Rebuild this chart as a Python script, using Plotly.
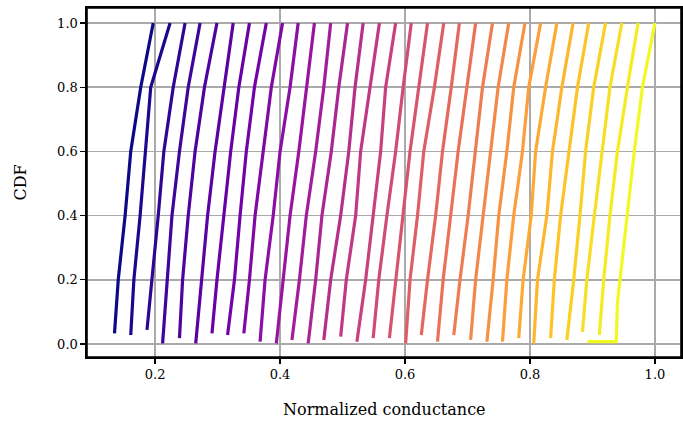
import plotly.graph_objects as go
from plotly.colors import sample_colorscale

# CDF levels read at the horizontal gridlines (shared by every curve after its first point)
cdf_levels = [0.2, 0.4, 0.6, 0.8, 1.0]

# CDF value of the first (lowest) point of each curve
first_cdf = [0.033, 0.028, 0.044, 0.002, 0.018, 0.002, 0.033, 0.028, 0.033, 0.007,
             0.002, 0.0125, 0.002, 0.0125, 0.023, 0.007, 0.018, 0.018, 0.002, 0.028,
             0.007, 0.028, 0.0125, 0.007, 0.007, 0.018, 0.002, 0.018, 0.0125, 0.038,
             0.028]

# normalized conductance of each curve: [first point, at 0.2, 0.4, 0.6, 0.8, 1.0]
curves_x = [
    [0.135, 0.141, 0.152, 0.161, 0.177, 0.197],
    [0.161, 0.166, 0.176, 0.184, 0.193, 0.224],
    [0.187, 0.195, 0.205, 0.214, 0.229, 0.248],
    [0.212, 0.219, 0.227, 0.239, 0.253, 0.272],
    [0.239, 0.244, 0.253, 0.264, 0.279, 0.299],
    [0.265, 0.275, 0.284, 0.296, 0.310, 0.325],
    [0.291, 0.299, 0.310, 0.321, 0.334, 0.351],
    [0.316, 0.327, 0.336, 0.346, 0.359, 0.378],
    [0.342, 0.351, 0.360, 0.373, 0.386, 0.404],
    [0.368, 0.376, 0.389, 0.400, 0.416, 0.429],
    [0.394, 0.405, 0.416, 0.430, 0.443, 0.455],
    [0.419, 0.431, 0.442, 0.457, 0.470, 0.481],
    [0.445, 0.457, 0.467, 0.482, 0.494, 0.508],
    [0.470, 0.481, 0.497, 0.510, 0.520, 0.533],
    [0.497, 0.506, 0.521, 0.529, 0.544, 0.559],
    [0.523, 0.537, 0.549, 0.561, 0.569, 0.585],
    [0.549, 0.558, 0.571, 0.585, 0.597, 0.610],
    [0.575, 0.585, 0.596, 0.608, 0.622, 0.636],
    [0.601, 0.608, 0.620, 0.630, 0.647, 0.662],
    [0.626, 0.636, 0.649, 0.660, 0.674, 0.687],
    [0.652, 0.661, 0.673, 0.685, 0.699, 0.713],
    [0.678, 0.688, 0.701, 0.712, 0.724, 0.740],
    [0.705, 0.713, 0.725, 0.737, 0.749, 0.766],
    [0.731, 0.741, 0.750, 0.763, 0.774, 0.792],
    [0.756, 0.763, 0.774, 0.788, 0.798, 0.817],
    [0.782, 0.789, 0.802, 0.809, 0.825, 0.843],
    [0.806, 0.812, 0.827, 0.836, 0.851, 0.869],
    [0.833, 0.839, 0.849, 0.863, 0.876, 0.894],
    [0.859, 0.870, 0.880, 0.889, 0.902, 0.921],
    [0.884, 0.891, 0.903, 0.916, 0.928, 0.947],
    [0.911, 0.918, 0.928, 0.940, 0.956, 0.973],
]

# last (yellow) curve has an outlier at the low end
last_x = [0.892, 0.938, 0.940, 0.944, 0.955, 0.967, 0.980, 1.0]
last_cdf = [0.007, 0.007, 0.13, 0.2, 0.4, 0.6, 0.8, 1.0]

x_title = "Normalized conductance"
y_title = "CDF"

all_x = curves_x + [last_x]
all_y = [[c0] + cdf_levels for c0 in first_cdf] + [last_cdf]

n = len(all_x)
colors = sample_colorscale("Plasma", [i / (n - 1) for i in range(n)])

fig = go.Figure()
for xs, ys, col in zip(all_x, all_y, colors):
    fig.add_trace(go.Scatter(x=xs, y=ys, mode="lines",
                             line=dict(color=col, width=3.2),
                             showlegend=False, hoverinfo="skip"))

tick_font = dict(family="DejaVu Serif", size=13, color="black")
title_font = dict(family="DejaVu Serif", size=16, color="black")
axis_common = dict(showgrid=True, gridcolor="#aaaaaa", gridwidth=1.5,
                   showline=True, linecolor="black", linewidth=1.6, mirror=True,
                   ticks="outside", ticklen=5, tickwidth=1.3, tickcolor="black",
                   zeroline=False, tickfont=tick_font, automargin=False)

fig.update_layout(
    width=683, height=421,
    margin=dict(l=87, r=2, t=8, b=64),
    plot_bgcolor="white", paper_bgcolor="white",
    font=tick_font,
    xaxis=dict(range=[0.0910, 1.0417], tickvals=[0.2, 0.4, 0.6, 0.8, 1.0],
               ticktext=["0.2", "0.4", "0.6", "0.8", "1.0"], **axis_common),
    yaxis=dict(range=[-0.0406, 1.0469], tickvals=[0.0, 0.2, 0.4, 0.6, 0.8, 1.0],
               ticktext=["0.0", "0.2", "0.4", "0.6", "0.8", "1.0"], **axis_common),
    annotations=[
        dict(text=x_title, xref="paper", yref="paper", x=0.5, y=0,
             xanchor="center", yanchor="middle", yshift=-52, showarrow=False,
             font=title_font),
        dict(text=y_title, xref="paper", yref="paper", x=0, y=0.5,
             xanchor="center", yanchor="middle", xshift=-67, textangle=-90,
             showarrow=False, font=title_font),
    ],
    shapes=[dict(type="rect", xref="paper", yref="paper", x0=0, x1=1, y0=0, y1=1,
                 line=dict(color="black", width=1.6), layer="above")],
)

# remove the default page margin so the 683x421 figure fills the window exactly
fig.write_html("out.html",
               config={"displayModeBar": False, "staticPlot": True},
               post_script="document.body.style.margin='0';document.body.style.overflow='hidden';")
